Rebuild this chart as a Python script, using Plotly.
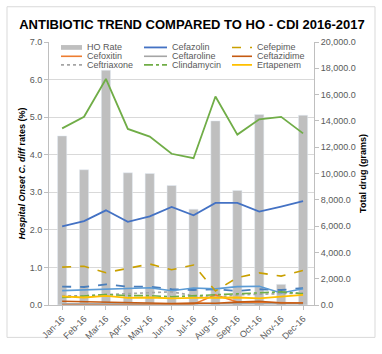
import plotly.graph_objects as go

months = ["Jan-16","Feb-16","Mar-16","Apr-16","May-16","Jun-16","Jul-16","Aug-16","Sep-16","Oct-16","Nov-16","Dec-16"]
ho_rate = [4.5, 3.6, 6.25, 3.52, 3.5, 3.18, 2.55, 4.9, 3.05, 5.07, 0.55, 5.05]

cefazolin   = [5970, 6380, 7200, 6330, 6740, 7450, 6820, 7760, 7760, 7100, 7490, 7900]
cefepime    = [2880, 2950, 2460, 2800, 3120, 2680, 3040, 1070, 2080, 2440, 2200, 2630]
cefoxitin   = [40, 40, 40, 40, 40, 40, 60, 770, 230, 200, 150, 150]
ceftaroline = [90, 90, 80, 80, 90, 80, 90, 120, 100, 90, 90, 90]
ceftazidime = [290, 260, 200, 150, 170, 110, 140, 130, 220, 290, 150, 150]
ceftriaxone = [710, 690, 800, 860, 970, 1000, 710, 570, 770, 800, 860, 910]
clindamycin = [570, 660, 800, 710, 710, 630, 710, 770, 860, 940, 1000, 860]
ertapenem   = [660, 570, 690, 540, 570, 510, 540, 540, 570, 510, 630, 770]
other_green = [13430, 14310, 17190, 13390, 12810, 11500, 11160, 15860, 12960, 14120, 14310, 13050]
other_dash  = [1400, 1370, 1570, 1400, 1400, 1200, 1140, 1200, 1060, 1200, 1140, 1290]
other_light = [1090, 1140, 1230, 1290, 1310, 1090, 1290, 1230, 1400, 1430, 910, 1230]

legend_names = ["HO Rate", "Cefazolin", "Cefepime", "Cefoxitin", "Ceftaroline",
                "Ceftazidime", "Ceftriaxone", "Clindamycin", "Ertapenem"]

W, H = 382, 354
L, R, T, B = 49, 68, 42, 36
PW, PH = W - L - R, H - T - B

def px(x):
    return (x - L) / PW

def py(y):
    return (H - B - y) / PH

fig = go.Figure()
fig.add_trace(go.Bar(x=months, y=ho_rate, name="HO Rate", marker_color="#BFBFBF", yaxis="y",
                     showlegend=False))

styles = {}

def line(y, name, color, dash="solid", width=1.6, legend=True):
    fig.add_trace(go.Scatter(x=months, y=y, name=name, mode="lines", yaxis="y2",
                             line=dict(color=color, dash=dash, width=width), showlegend=False))
    if legend:
        styles[name] = (color, dash, width)

line(other_green, "Series 10", "#70AD47", width=1.8, legend=False)
line(other_dash, "Series 11", "#4A7EBB", dash="dash", width=1.8, legend=False)
line(other_light, "Series 12", "#5B9BD5", width=1.6, legend=False)
line(cefazolin, "Cefazolin", "#4472C4", width=1.8)
line(cefepime, "Cefepime", "#C9A000", dash="dash", width=1.6)
line(cefoxitin, "Cefoxitin", "#ED7D31")
line(ceftaroline, "Ceftaroline", "#A5A5A5")
line(ceftazidime, "Ceftazidime", "#C55A11")
line(ceftriaxone, "Ceftriaxone", "#A5A5A5", dash="dot")
line(clindamycin, "Clindamycin", "#70AD47", dash="dashdot", width=1.6)
line(ertapenem, "Ertapenem", "#FFC000", width=1.8)

# custom compact legend (3 columns, as in the original Excel chart)
col_sym = [(61, 82), (144, 167), (232, 252)]
row_y = [47.7, 57, 66]
shapes = [dict(type="rect", xref="paper", yref="paper", x0=px(7), x1=px(375), y0=py(352), y1=py(5),
               line=dict(color="#D9D9D9", width=1), layer="below")]
annotations = []
for i, name in enumerate(legend_names):
    r, c = divmod(i, 3)
    x0, x1 = col_sym[c]
    yy = row_y[r]
    if name == "HO Rate":
        shapes.append(dict(type="rect", xref="paper", yref="paper", x0=px(x0), x1=px(x1),
                           y0=py(yy + 2.5), y1=py(yy - 2.5), fillcolor="#BFBFBF",
                           line=dict(width=0)))
    else:
        color, dash, width = styles[name]
        shapes.append(dict(type="line", xref="paper", yref="paper", x0=px(x0), x1=px(x1),
                           y0=py(yy), y1=py(yy), line=dict(color=color, dash=dash, width=width)))
    annotations.append(dict(text=name, xref="paper", yref="paper", x=px(x1 + 3), y=py(yy),
                            xanchor="left", yanchor="middle", showarrow=False,
                            font=dict(size=9, color="#595959")))

font = "Liberation Sans, Arial, sans-serif"
fig.update_layout(
    width=W, height=H,
    margin=dict(l=L, r=R, t=T, b=B),
    paper_bgcolor="white", plot_bgcolor="white",
    font=dict(family=font, size=9, color="#595959"),
    title=dict(text="<b>ANTIBIOTIC TREND COMPARED TO HO - CDI 2016-2017</b>",
               x=192 / W, xref="container", xanchor="center", y=1 - 24 / H, yref="container",
               yanchor="middle", font=dict(size=13, color="#000000", family=font)),
    bargap=0.58,
    showlegend=False,
    xaxis=dict(type="category", range=[-0.6, 11.5], tickangle=-45, showgrid=False,
               showline=True, linecolor="#BFBFBF", ticks="outside", ticklen=4, tickcolor="#BFBFBF",
               tickfont=dict(size=9, color="#595959")),
    yaxis=dict(range=[0, 7], dtick=1, tickformat=".1f", showgrid=True, gridcolor="#D9D9D9",
               showline=True, linecolor="#BFBFBF", ticks="outside", ticklen=4, tickcolor="#BFBFBF",
               zeroline=False,
               title=dict(text="<b><i>Hospital Onset C. diff</i> rates (%)</b>",
                          font=dict(size=9, color="#000000"), standoff=2),
               tickfont=dict(size=9, color="#595959")),
    yaxis2=dict(range=[0, 20000], dtick=2000, tickformat=",.1f", overlaying="y", side="right",
                showgrid=False, showline=True, linecolor="#BFBFBF", ticks="outside", ticklen=4,
                tickcolor="#BFBFBF", zeroline=False,
                title=dict(text="<b>Total drug (grams)</b>", font=dict(size=9, color="#000000"),
                           standoff=4),
                tickfont=dict(size=9, color="#595959")),
    shapes=shapes,
    annotations=annotations,
)

fig.write_html("out.html")
